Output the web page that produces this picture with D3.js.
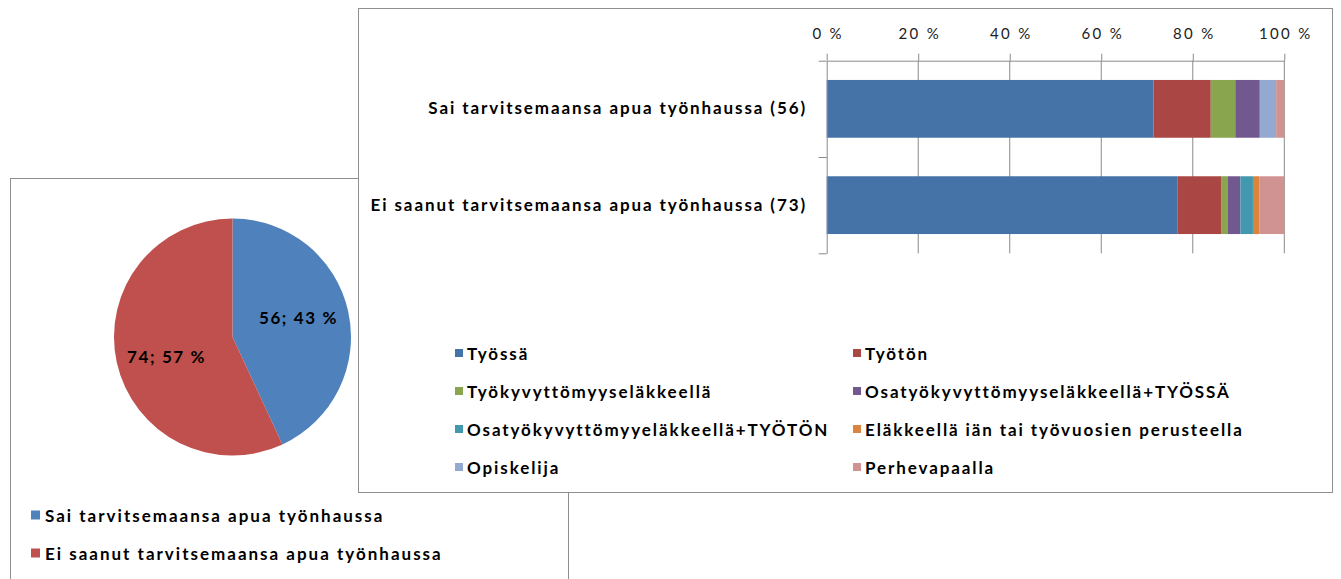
<!DOCTYPE html>
<html>
<head>
<meta charset="utf-8">
<script src="https://cdn.jsdelivr.net/npm/d3@7"></script>
<style>
  body { margin: 0; background: #fff; }
  text { font-family: Lato, "Open Sans", sans-serif; }
</style>
</head>
<body>
<div id="viz"></div>
<script>
const width = 1341;
const height = 579;

// Bar chart data: counts per status, each row stacked to 100 %
const categories = ['Sai tarvitsemaansa apua työnhaussa (56)', 'Ei saanut tarvitsemaansa apua työnhaussa (73)'];
const seriesNames = [
  'Työssä',
  'Työtön',
  'Työkyvyttömyyseläkkeellä',
  'Osatyökyvyttömyyseläkkeellä+TYÖSSÄ',
  'Osatyökyvyttömyyeläkkeellä+TYÖTÖN',
  'Eläkkeellä iän tai työvuosien perusteella',
  'Opiskelija',
  'Perhevapaalla'
];
const tyossa = [40, 56];
const tyoton = [7, 7];
const tyokyvyttomyys = [3, 1];
const osaTyossa = [3, 2];
const osaTyoton = [0, 2];
const elakkeella = [0, 1];
const opiskelija = [2, 0];
const perhevapaalla = [1, 4];
const seriesValues = [tyossa, tyoton, tyokyvyttomyys, osaTyossa, osaTyoton, elakkeella, opiskelija, perhevapaalla];
const seriesColors = ['#4572A7', '#AA4643', '#89A54E', '#71588F', '#4198AF', '#DB843D', '#93A9CF', '#D19392'];
const tickValues = [0, 0.2, 0.4, 0.6, 0.8, 1];

// Pie data
const pieLabels = ['Sai tarvitsemaansa apua työnhaussa', 'Ei saanut tarvitsemaansa apua työnhaussa'];
const pieValues = [56, 74];
const pieColors = ['#4F81BD', '#C0504D'];

const borderColor = '#8f8f8f';
const axisColor = '#8a8a8a';

const svg = d3.select('#viz')
  .append('svg')
    .attr('width', width)
    .attr('height', height)
    .attr('viewBox', [0, 0, width, height]);

// ---------- pie chart box (behind) ----------
svg.append('rect')
  .attr('x', 10.5)
  .attr('y', 178.5)
  .attr('width', 558)
  .attr('height', 450)
  .attr('fill', '#fff')
  .attr('stroke', borderColor);

const pieCx = 232.5, pieCy = 337, pieR = 118.5;
const pieTotal = d3.sum(pieValues);
const pie = d3.pie().sort(null).value(d => d)(pieValues);
const arc = d3.arc().innerRadius(0).outerRadius(pieR);
const labelArc = d3.arc().innerRadius(pieR * 0.57).outerRadius(pieR * 0.57);

const pieG = svg.append('g')
  .attr('transform', `translate(${pieCx},${pieCy})`);
pieG.selectAll('path')
  .data(pie)
  .join('path')
    .attr('d', arc)
    .attr('fill', (d, i) => pieColors[i]);
// labels sit a little further from the horizontal than the plain centroid
pieG.selectAll('text')
  .data(pie)
  .join('text')
    .attr('transform', d => {
      const [cx, cy] = labelArc.centroid(d);
      return `translate(${cx},${cy * 1.35})`;
    })
    .attr('text-anchor', 'middle')
    .attr('dominant-baseline', 'central')
    .style('font-size', '17px')
    .style('font-weight', 700)
    .style('letter-spacing', '1.6px')
    .attr('fill', '#000')
    .text(d => `${d.value}; ${Math.round(d.value / pieTotal * 100)} %`);

const pieLegend = svg.append('g')
  .selectAll('g')
  .data(pieLabels)
  .join('g')
    .attr('transform', (d, i) => `translate(31, ${515 + i * 38})`);
pieLegend.append('rect')
  .attr('x', 0)
  .attr('y', -4.5)
  .attr('width', 9)
  .attr('height', 9)
  .attr('fill', (d, i) => pieColors[i]);
pieLegend.append('text')
  .attr('x', 14)
  .attr('dominant-baseline', 'central')
  .style('font-size', '17px')
  .style('font-weight', 700)
  .style('letter-spacing', '2px')
  .text(d => d);

// ---------- bar chart box (front) ----------
svg.append('rect')
  .attr('x', 358.5)
  .attr('y', 8.5)
  .attr('width', 974)
  .attr('height', 484)
  .attr('fill', '#fff')
  .attr('stroke', borderColor);

const plotTop = 60.7, plotBottom = 253.3;
const xScale = d3.scaleLinear()
  .domain([0, 1])
  .range([826.7, 1284.3]);
const yScale = d3.scaleBand()
  .domain(categories)
  .range([plotTop, plotBottom])
  .paddingInner(0.4)
  .paddingOuter(0.2);
const yEdges = d3.scaleLinear()
  .domain([0, categories.length])
  .range([plotTop, plotBottom]);

// gridlines
svg.append('g')
  .selectAll('line')
  .data(tickValues.slice(1))
  .join('line')
    .attr('x1', d => xScale(d))
    .attr('x2', d => xScale(d))
    .attr('y1', plotTop)
    .attr('y2', plotBottom)
    .attr('stroke', axisColor);

// stacked bars
const rows = categories.map((c, j) => {
  const row = {category: c};
  seriesNames.forEach((s, i) => { row[s] = seriesValues[i][j]; });
  return row;
});
const stacked = d3.stack()
  .keys(seriesNames)
  .offset(d3.stackOffsetExpand)(rows);

svg.append('g')
  .selectAll('g')
  .data(stacked)
  .join('g')
    .attr('fill', (d, i) => seriesColors[i])
  .selectAll('rect')
  .data(d => d)
  .join('rect')
    .attr('x', d => xScale(d[0]))
    .attr('y', d => yScale(d.data.category))
    .attr('width', d => xScale(d[1]) - xScale(d[0]))
    .attr('height', yScale.bandwidth());

// top axis
const xAxis = d3.axisTop(xScale)
  .tickValues(tickValues)
  .tickFormat(d => Math.round(d * 100) + ' %')
  .tickSize(7)
  .tickPadding(15)
  .tickSizeOuter(0);
const xAxisGroup = svg.append('g')
  .attr('transform', `translate(0, ${plotTop})`)
  .call(xAxis);
xAxisGroup.select('.domain').attr('stroke', axisColor);
xAxisGroup.selectAll('.tick line').attr('stroke', axisColor);
xAxisGroup.selectAll('.tick text')
  .attr('fill', '#222')
  .attr('dx', '1px')
  .style('font-family', 'Lato, sans-serif')
  .style('font-size', '15px')
  .style('letter-spacing', '2.3px');

// category axis: ticks at band edges
const yAxis = d3.axisLeft(yEdges)
  .tickValues(d3.range(categories.length + 1))
  .tickFormat('')
  .tickSize(8)
  .tickSizeOuter(0);
const yAxisGroup = svg.append('g')
  .attr('transform', `translate(${xScale(0)}, 0)`)
  .call(yAxis);
yAxisGroup.select('.domain').attr('stroke', axisColor);
yAxisGroup.selectAll('.tick line').attr('stroke', axisColor);

svg.append('g')
  .selectAll('text')
  .data(categories)
  .join('text')
    .attr('x', 807)
    .attr('y', d => yScale(d) + yScale.bandwidth() / 2 - 1)
    .attr('text-anchor', 'end')
    .attr('dominant-baseline', 'central')
    .style('font-size', '17px')
    .style('font-weight', 700)
    .style('letter-spacing', '1.9px')
    .text(d => d);

// legend, two columns
const legendX = [455, 853];
const legend = svg.append('g')
  .selectAll('g')
  .data(seriesNames)
  .join('g')
    .attr('transform', (d, i) => `translate(${legendX[i % 2]}, ${353 + Math.floor(i / 2) * 38})`);
legend.append('rect')
  .attr('x', 0)
  .attr('y', -4)
  .attr('width', 8)
  .attr('height', 8)
  .attr('fill', (d, i) => seriesColors[i]);
legend.append('text')
  .attr('x', 12)
  .attr('dominant-baseline', 'central')
  .style('font-size', '17px')
  .style('font-weight', 700)
  .style('letter-spacing', '1.9px')
  .text(d => d);
</script>
</body>
</html>
